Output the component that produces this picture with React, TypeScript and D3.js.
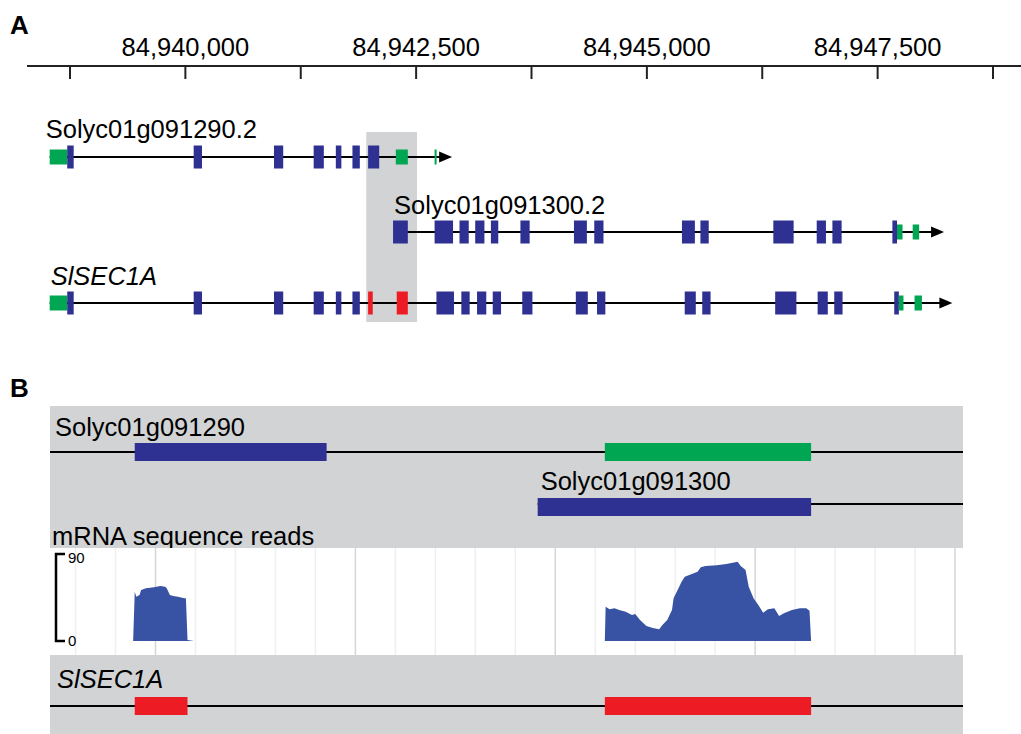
import React from "react";
import * as d3 from "d3";

// genomic axis (panel A)
const AXIS_TICKS = d3.range(84938750, 84948751, 1250);
const AXIS_LABELS = [84940000, 84942500, 84945000, 84947500];

// exon models: [start, end, kind]  c = CDS (blue), u = UTR (green), r = SlSEC1A-specific (red)
type Exon = [number, number, string];

const tx1Name = "Solyc01g091290.2";
const tx1End = 84942890;
const tx1Exons: Exon[] = [
  [84938530, 84938720, "u"],
  [84938720, 84938790, "c"],
  [84940090, 84940180, "c"],
  [84940960, 84941060, "c"],
  [84941390, 84941500, "c"],
  [84941630, 84941690, "c"],
  [84941810, 84941890, "c"],
  [84941980, 84942100, "c"],
  [84942280, 84942410, "u"],
  [84942700, 84942722, "u"],
];

const tx2Name = "Solyc01g091300.2";
const tx2End = 84948220;
const tx2Exons: Exon[] = [
  [84942250, 84942410, "c"],
  [84942700, 84942900, "c"],
  [84942970, 84943070, "c"],
  [84943140, 84943240, "c"],
  [84943310, 84943390, "c"],
  [84943630, 84943730, "c"],
  [84944210, 84944350, "c"],
  [84944430, 84944530, "c"],
  [84945380, 84945520, "c"],
  [84945580, 84945670, "c"],
  [84946370, 84946590, "c"],
  [84946840, 84946940, "c"],
  [84947010, 84947110, "c"],
  [84947660, 84947710, "c"],
  [84947710, 84947770, "u"],
  [84947880, 84947950, "u"],
];

const tx3Name = "SlSEC1A";
const tx3End = 84948310;
const tx3Exons: Exon[] = [
  [84938530, 84938720, "u"],
  [84938720, 84938790, "c"],
  [84940090, 84940180, "c"],
  [84940960, 84941060, "c"],
  [84941390, 84941500, "c"],
  [84941630, 84941690, "c"],
  [84941810, 84941890, "c"],
  [84941980, 84942030, "r"],
  [84942290, 84942410, "r"],
  [84942720, 84942910, "c"],
  [84942990, 84943080, "c"],
  [84943160, 84943260, "c"],
  [84943330, 84943420, "c"],
  [84943650, 84943760, "c"],
  [84944230, 84944360, "c"],
  [84944460, 84944550, "c"],
  [84945410, 84945530, "c"],
  [84945600, 84945690, "c"],
  [84946390, 84946620, "c"],
  [84946850, 84946960, "c"],
  [84947030, 84947120, "c"],
  [84947680, 84947730, "c"],
  [84947730, 84947780, "u"],
  [84947900, 84947980, "u"],
];

// highlighted region in A = zoom window of B
const zoomStart = 84941960;
const zoomEnd = 84942510;

// panel B (zoomed view)
const bDomain = [84941934, 84942505];
const bGene1Name = "Solyc01g091290";
const bGene1Exons: Exon[] = [
  [84941987, 84942107, "c"],
  [84942281, 84942410, "u"],
];
const bGene2Name = "Solyc01g091300";
const bGene2Start = 84942239;
const bGene2Exons: Exon[] = [[84942239, 84942410, "c"]];
const bSecName = "SlSEC1A";
const bSecExons: Exon[] = [
  [84941987, 84942020, "r"],
  [84942281, 84942410, "r"],
];

// mRNA read coverage
const covMax = 90;
const cov1Pos = [84941986, 84941987, 84941988, 84941990, 84941991, 84941994, 84941999, 84942003, 84942006, 84942007, 84942009, 84942011, 84942014, 84942018, 84942019, 84942020, 84942024];
const cov1Val = [0, 51, 45.8, 47.6, 52.8, 54.5, 55.5, 56.9, 56.2, 54.5, 47.6, 46.6, 45.8, 44.1, 44.1, 1, 0];
const cov2Pos = [84942281, 84942281.5, 84942284, 84942287, 84942290, 84942294, 84942298, 84942300, 84942303, 84942307, 84942311, 84942315, 84942317, 84942320, 84942323, 84942324, 84942326, 84942329, 84942331, 84942335, 84942339, 84942341, 84942344, 84942351, 84942357, 84942361, 84942364, 84942366, 84942369, 84942371, 84942374, 84942377, 84942380, 84942383, 84942387, 84942390, 84942393, 84942398, 84942403, 84942407, 84942409, 84942410];
const cov2Val = [0, 35.5, 32.8, 33.8, 32.1, 30.3, 26.9, 27.9, 21.7, 15.5, 13.4, 12.1, 16.6, 21.7, 32.1, 44.1, 51, 61.3, 66.5, 69, 71.7, 76.2, 77.6, 78.3, 79.7, 81, 82, 77.6, 73.4, 56.2, 44.1, 37.2, 29.3, 32.8, 33.8, 25.9, 28.6, 32.1, 33.8, 33.8, 31.3, 0];

const BLUE = "#2e3192";
const GREEN = "#00a651";
const RED = "#ed1c24";
const GRAY = "#d1d3d4";
const COV = "#3953a4";
const FONT = "'Liberation Sans', Arial, sans-serif";

const colorOf = (k: string) => (k === "c" ? BLUE : k === "u" ? GREEN : RED);

function Transcript({ exons, end, y, x, label, italic, labelY, labelDx }: any) {
  const start = exons[0][0];
  const x1 = x(end);
  return (
    <g>
      <text x={x(start) + labelDx} y={labelY} fontSize={25.5} fontStyle={italic ? "italic" : "normal"} fontFamily={FONT}>
        {label}
      </text>
      <line x1={x(start)} x2={x1 - 8} y1={y} y2={y} stroke="#000" strokeWidth={2} />
      <path d={`M${x1},${y}L${x1 - 13},${y - 5.5}L${x1 - 13},${y + 5.5}Z`} fill="#000" />
      {exons.map((e: Exon, i: number) => {
        const h = e[2] === "u" ? 15 : 23;
        return (
          <rect key={i} x={x(e[0])} width={Math.max(2, x(e[1]) - x(e[0]))} y={y - h / 2} height={h} fill={colorOf(e[2])} />
        );
      })}
    </g>
  );
}

export default function App() {
  const xA = d3.scaleLinear().domain([84938750, 84948750]).range([70, 993]);
  const xB = d3.scaleLinear().domain(bDomain).range([50, 963]);
  const yC = d3.scaleLinear().domain([0, covMax]).range([641, 554]);
  const fmt = d3.format(",");

  const area = d3
    .area<[number, number]>()
    .x((d) => xB(d[0]))
    .y0(yC(0))
    .y1((d) => yC(d[1]));
  const cov1 = cov1Pos.map((p, i) => [p, cov1Val[i]] as [number, number]);
  const cov2 = cov2Pos.map((p, i) => [p, cov2Val[i]] as [number, number]);

  const minorGrid = d3.range(84941950, 84942505, 25);

  const bBar = (exons: Exon[], y: number) =>
    exons.map((e, i) => (
      <rect key={i} x={xB(e[0])} width={xB(e[1]) - xB(e[0])} y={y} height={18} fill={colorOf(e[2])} />
    ));

  return (
    <svg width={1021} height={734} style={{ position: "absolute", left: 0, top: 0, background: "#fff" }} fontFamily={FONT}>
      {/* panel A */}
      <text x={10} y={34} fontSize={26} fontWeight="bold">A</text>
      <line x1={27} x2={1021} y1={66} y2={66} stroke="#222" strokeWidth={2} />
      {AXIS_TICKS.map((t) => (
        <line key={t} x1={xA(t)} x2={xA(t)} y1={66} y2={79} stroke="#222" strokeWidth={2} />
      ))}
      {AXIS_LABELS.map((t) => (
        <text key={t} x={xA(t)} y={56} fontSize={25.5} textAnchor="middle">{fmt(t)}</text>
      ))}

      <rect x={xA(zoomStart)} width={xA(zoomEnd) - xA(zoomStart)} y={132} height={190} fill={GRAY} />

      <Transcript exons={tx1Exons} end={tx1End} y={157} x={xA} label={tx1Name} labelY={138} labelDx={-4} />
      <Transcript exons={tx2Exons} end={tx2End} y={232} x={xA} label={tx2Name} labelY={214} labelDx={1} />
      <Transcript exons={tx3Exons} end={tx3End} y={303} x={xA} label={tx3Name} labelY={285} labelDx={1} italic />

      {/* panel B */}
      <text x={10} y={397} fontSize={26} fontWeight="bold">B</text>
      <rect x={50} y={406} width={913} height={142} fill={GRAY} />
      <text x={55} y={436} fontSize={25.5}>{bGene1Name}</text>
      <line x1={50} x2={963} y1={452} y2={452} stroke="#000" strokeWidth={2} />
      {bBar(bGene1Exons, 443)}
      <text x={xB(bGene2Start) + 3} y={490} fontSize={25.5}>{bGene2Name}</text>
      <line x1={xB(bGene2Start)} x2={963} y1={504} y2={504} stroke="#000" strokeWidth={2} />
      {bBar(bGene2Exons, 498)}
      <text x={52} y={545} fontSize={25.5}>mRNA sequence reads</text>

      {/* coverage */}
      <rect x={50} y={548} width={913} height={107} fill="#fff" />
      {minorGrid.map((g) => (
        <line
          key={g}
          x1={xB(g)}
          x2={xB(g)}
          y1={548}
          y2={655}
          stroke={(g - 84942000) % 125 === 0 ? "#d6d6d6" : "#efefef"}
          strokeWidth={1.5}
        />
      ))}
      <path d={area(cov1) || ""} fill={COV} />
      <path d={area(cov2) || ""} fill={COV} />
      <path d={`M65,${yC(covMax)}H56V${yC(0)}H65`} fill="none" stroke="#000" strokeWidth={2.5} />
      <text x={68} y={563} fontSize={15}>{covMax}</text>
      <text x={68} y={646} fontSize={15}>0</text>

      <rect x={50} y={655} width={913} height={79} fill={GRAY} />
      <text x={57} y={688} fontSize={25.5} fontStyle="italic">{bSecName}</text>
      <line x1={50} x2={963} y1={706} y2={706} stroke="#000" strokeWidth={2} />
      {bBar(bSecExons, 697)}
    </svg>
  );
}
